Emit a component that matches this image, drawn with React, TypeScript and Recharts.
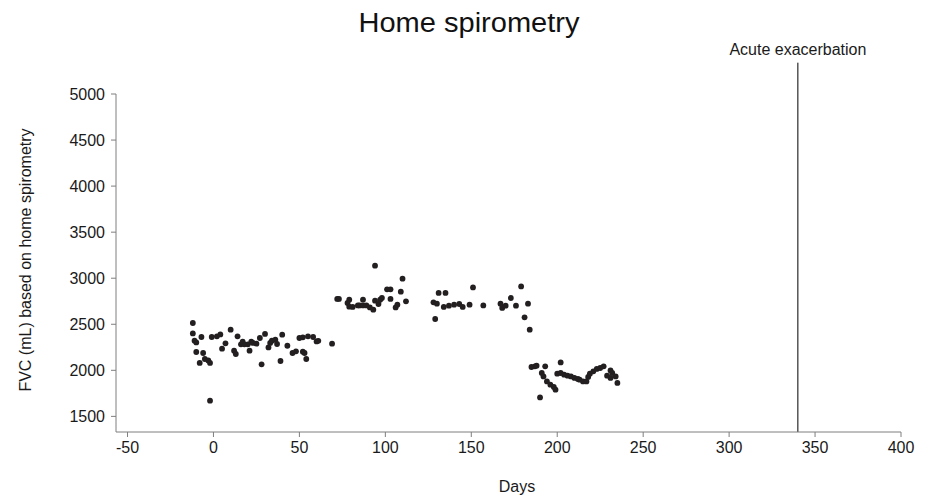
import React from 'react';
import { ScatterChart, Scatter, XAxis, YAxis, ReferenceLine } from 'recharts';

const days = [
  -12, -12, -11, -10, -7, -10, -6, -8, -5, -3, -2, -2, -1, 2, 4, 7, 5, 10, 12, 13, 14, 16, 17, 18, 20, 21, 22, 23, 25, 27, 28, 30, 32, 33, 34, 36, 37, 40, 39, 43, 46, 48, 50, 52, 55, 52, 53, 54, 58, 60, 61, 69,
  72, 73, 79, 78, 79, 81, 84, 85, 87, 87, 89, 91, 93, 94, 94, 96, 97, 98, 101, 103, 103, 106, 107, 109, 110, 112,
  128, 129, 130, 131, 134, 135, 137, 140, 143, 145, 149, 151, 157, 167, 168, 170, 173, 176, 179, 181, 183, 184,
  185, 187, 188, 190, 191, 192, 193, 194, 196, 198, 199, 200, 202, 202, 204, 206, 208, 210, 212, 213, 215, 217, 218, 219, 221, 223, 225, 227, 229, 231, 231, 232, 234, 235,
];
const fvc = [
  2514, 2401, 2322, 2303, 2362, 2199, 2188, 2080, 2123, 2108, 2080, 1670, 2362, 2369, 2390, 2293, 2235, 2441, 2213, 2177, 2369, 2282, 2311, 2282, 2282, 2213, 2311, 2297, 2289, 2351, 2065, 2395, 2249, 2297, 2322, 2333, 2286, 2387, 2101, 2267, 2188, 2206, 2351, 2358, 2369, 2202, 2188, 2123, 2362, 2314, 2320, 2289,
  2775, 2775, 2767, 2731, 2691, 2688, 2705, 2705, 2767, 2705, 2705, 2683, 2658, 2756, 3136, 2720, 2767, 2785, 2879, 2879, 2775, 2683, 2713, 2854, 2995, 2749,
  2738, 2557, 2724, 2840, 2688, 2840, 2702, 2713, 2720, 2688, 2713, 2900, 2705, 2724, 2677, 2702, 2785, 2702, 2911, 2575, 2724, 2441,
  2036, 2043, 2050, 1706, 1971, 1934, 2043, 1880, 1844, 1819, 1790, 1964, 1971, 2086, 1953, 1942, 1934, 1917, 1906, 1898, 1880, 1880, 1928, 1964, 1989, 2015, 2025, 2043, 1942, 1999, 1917, 1971, 1934, 1863,
];
const xTicks = [-50, 0, 50, 100, 150, 200, 250, 300, 350, 400];
const yTicks = [1500, 2000, 2500, 3000, 3500, 4000, 4500, 5000];
const xDomain = [-56.7, 400];
const yDomain = [1330.4, 5000];
const eventDay = 340;
const eventTop = 5340;
const eventLabel = 'Acute exacerbation';
const title = 'Home spirometry';
const xLabel = 'Days';
const yLabel = 'FVC (mL) based on home spirometry';

const data = days.map((d, i) => ({ day: d, fvc: fvc[i] }));

const FONT = '"Liberation Sans", Arial, sans-serif';
const TEXT = '#1a1a1a';
const AXIS = '#7f7f7f';

const Dot = (p: any) => <circle cx={p.cx} cy={p.cy} r={2.9} fill="#231f20" />;

export default function App() {
  return (
    <div style={{ position: 'absolute', left: 0, top: 0, width: 937, height: 503, background: '#fff' }}>
      <ScatterChart width={937} height={503} margin={{ top: 94, right: 36, bottom: 41, left: 56 }}>
        <XAxis
          type="number"
          dataKey="day"
          domain={xDomain}
          ticks={xTicks}
          interval={0}
          allowDataOverflow
          height={30}
          tickSize={5}
          tickMargin={5}
          stroke={AXIS}
          tick={{ fill: TEXT, fontSize: 16, fontFamily: FONT }}
          label={{ value: xLabel, position: 'bottom', offset: 19, dx: 8.5, fill: TEXT, fontSize: 16, fontFamily: FONT }}
        />
        <YAxis
          type="number"
          dataKey="fvc"
          domain={yDomain}
          ticks={yTicks}
          interval={0}
          allowDataOverflow
          width={60}
          tickSize={5}
          tickMargin={6}
          stroke={AXIS}
          tick={{ fill: TEXT, fontSize: 16, fontFamily: FONT }}
          label={{ value: yLabel, angle: -90, position: 'center', dx: -61, dy: -3, fill: TEXT, fontSize: 16, fontFamily: FONT }}
        />
        <ReferenceLine
          segment={[{ x: eventDay, y: yDomain[0] }, { x: eventDay, y: eventTop }]}
          stroke="#000"
          strokeWidth={1}
          ifOverflow="visible"
          label={{ value: eventLabel, position: 'top', offset: 8, fill: TEXT, fontSize: 16, fontFamily: FONT }}
        />
        <Scatter data={data} isAnimationActive={false} fill="#231f20" shape={Dot} />
      </ScatterChart>
      <svg style={{ position: 'absolute', left: 0, top: 0, pointerEvents: 'none' }} width={937} height={503}>
        <text x={469} y={32} textAnchor="middle" fontFamily={FONT} fontSize={27} textLength={221} lengthAdjust="spacingAndGlyphs" fill="#111">
          {title}
        </text>
      </svg>
    </div>
  );
}
